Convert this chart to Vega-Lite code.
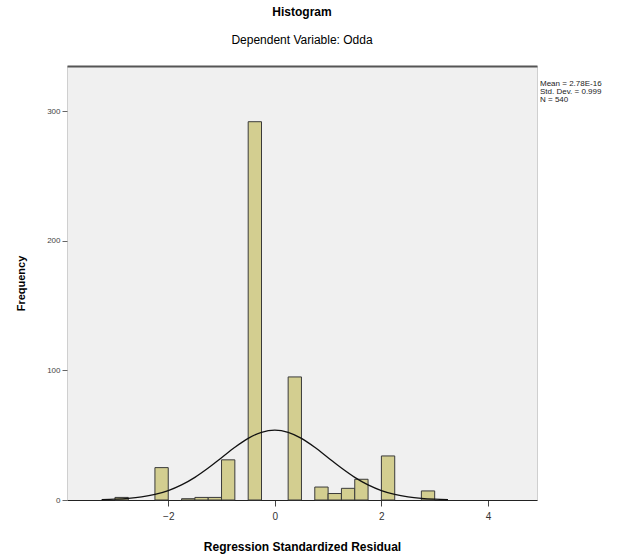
{
  "$schema": "https://vega.github.io/schema/vega-lite/v6.json",
  "width": 470,
  "height": 434,
  "autosize": "none",
  "padding": {"left": 67, "top": 66, "right": 106, "bottom": 55},
  "background": "white",
  "config": {
    "font": "Liberation Sans"
  },
  "view": {"fill": "#f0f0f0", "stroke": "#cfcfcf", "strokeWidth": 1},
  "title": {
    "text": "Histogram",
    "subtitle": "Dependent Variable: Odda",
    "anchor": "middle",
    "fontSize": 12,
    "fontWeight": "bold",
    "subtitleFontSize": 12,
    "subtitleColor": "black",
    "subtitlePadding": 16,
    "offset": 19,
    "color": "black"
  },
  "datasets": {
    "bins": [
      {"bin_start": -3.0, "bin_end": -2.75, "count": 2},
      {"bin_start": -2.25, "bin_end": -2.0, "count": 25},
      {"bin_start": -1.75, "bin_end": -1.5, "count": 1},
      {"bin_start": -1.5, "bin_end": -1.25, "count": 2},
      {"bin_start": -1.25, "bin_end": -1.0, "count": 2},
      {"bin_start": -1.0, "bin_end": -0.75, "count": 31},
      {"bin_start": -0.5, "bin_end": -0.25, "count": 292},
      {"bin_start": 0.25, "bin_end": 0.5, "count": 95},
      {"bin_start": 0.75, "bin_end": 1.0, "count": 10},
      {"bin_start": 1.0, "bin_end": 1.25, "count": 5},
      {"bin_start": 1.25, "bin_end": 1.5, "count": 9},
      {"bin_start": 1.5, "bin_end": 1.75, "count": 16},
      {"bin_start": 2.0, "bin_end": 2.25, "count": 34},
      {"bin_start": 2.75, "bin_end": 3.0, "count": 7}
    ],
    "curve": [
      {"x": -3.25, "density": 0.27},
      {"x": -3.0, "density": 0.6},
      {"x": -2.75, "density": 1.23},
      {"x": -2.5, "density": 2.37},
      {"x": -2.25, "density": 4.29},
      {"x": -2.0, "density": 7.29},
      {"x": -1.75, "density": 11.66},
      {"x": -1.5, "density": 17.5},
      {"x": -1.25, "density": 24.68},
      {"x": -1.0, "density": 32.69},
      {"x": -0.75, "density": 40.68},
      {"x": -0.5, "density": 47.57},
      {"x": -0.25, "density": 52.24},
      {"x": 0.0, "density": 53.9},
      {"x": 0.25, "density": 52.24},
      {"x": 0.5, "density": 47.57},
      {"x": 0.75, "density": 40.68},
      {"x": 1.0, "density": 32.69},
      {"x": 1.25, "density": 24.68},
      {"x": 1.5, "density": 17.5},
      {"x": 1.75, "density": 11.66},
      {"x": 2.0, "density": 7.29},
      {"x": 2.25, "density": 4.29},
      {"x": 2.5, "density": 2.37},
      {"x": 2.75, "density": 1.23},
      {"x": 3.0, "density": 0.6},
      {"x": 3.25, "density": 0.27}
    ],
    "stats": [
      {"stat": "Mean = 2.78E-16"},
      {"stat": "Std. Dev. = 0.999"},
      {"stat": "N = 540"}
    ]
  },
  "resolve": {"axis": {"x": "independent"}},
  "layer": [
    {
      "data": {"name": "bins"},
      "mark": {"type": "rect", "fill": "#d3ce90", "stroke": "#3a3a3a", "strokeWidth": 1},
      "encoding": {
        "x": {
          "field": "bin_start",
          "type": "quantitative",
          "scale": {"domain": [-3.9, 4.92], "nice": false, "zero": false},
          "axis": {
            "orient": "bottom",
            "values": [-2, 0, 2, 4],
            "title": "Regression Standardized Residual",
            "titleFontSize": 12,
            "titleFontWeight": "bold",
            "titleColor": "black",
            "titlePadding": 20,
            "labelFontSize": 10,
            "labelColor": "#333",
            "labelPadding": 5,
            "grid": false,
            "domainColor": "#222",
            "tickColor": "#444",
            "tickSize": 6
          }
        },
        "x2": {"field": "bin_end"},
        "y": {
          "field": "count",
          "type": "quantitative",
          "scale": {"domain": [0, 335], "nice": false},
          "axis": {
            "values": [0, 100, 200, 300],
            "title": "Frequency",
            "titleFontSize": 11,
            "titleFontWeight": "bold",
            "titleColor": "black",
            "titlePadding": 20,
            "labelFontSize": 8,
            "labelColor": "#444",
            "grid": false,
            "domain": false,
            "tickColor": "#666",
            "tickSize": 5
          }
        },
        "y2": {"datum": 0}
      }
    },
    {
      "data": {"name": "curve"},
      "mark": {"type": "line", "color": "#111", "strokeWidth": 1.3, "interpolate": "monotone"},
      "encoding": {
        "x": {
          "field": "x",
          "type": "quantitative",
          "axis": {"orient": "top", "labels": false, "ticks": false, "title": null, "grid": false, "domainColor": "#555", "domainWidth": 2}
        },
        "y": {"field": "density", "type": "quantitative"}
      }
    },
    {
      "data": {"name": "stats"},
      "mark": {"type": "point", "opacity": 0},
      "encoding": {
        "color": {
          "field": "stat",
          "type": "nominal",
          "scale": {"domain": ["Mean = 2.78E-16", "Std. Dev. = 0.999", "N = 540"], "range": ["black", "black", "black"]},
          "legend": {
            "orient": "none",
            "legendX": 465,
            "legendY": 14,
            "title": null,
            "symbolSize": 0,
            "symbolOpacity": 0,
            "symbolStrokeWidth": 0,
            "labelFontSize": 8,
            "labelColor": "#222",
            "labelOffset": 0,
            "rowPadding": 0,
            "padding": 0
          }
        }
      }
    }
  ]
}
